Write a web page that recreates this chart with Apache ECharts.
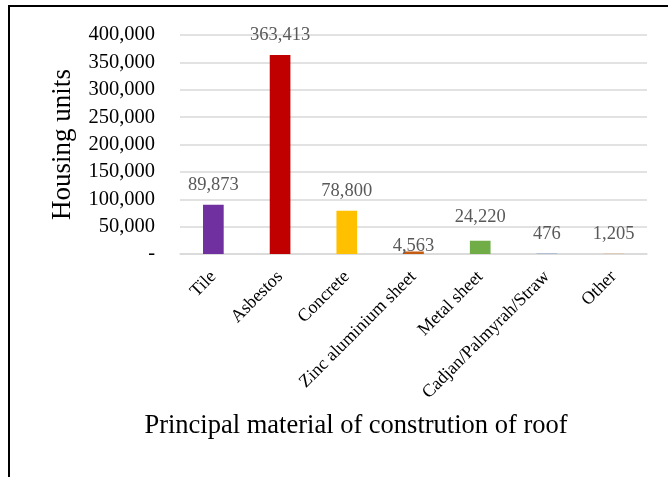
<!DOCTYPE html>
<html>
<head>
<meta charset="utf-8">
<script src="https://cdn.jsdelivr.net/npm/echarts@6/dist/echarts.min.js"></script>
<style>
  html, body { margin: 0; padding: 0; background: #fff; }
  #frame { position: absolute; left: 8px; top: 5px; width: 660px; height: 472px;
           border-left: 2px solid #000; border-top: 2px solid #000; }
  #chart { position: absolute; left: 0; top: 0; width: 668px; height: 477px; }
</style>
</head>
<body>
<div id="frame"></div>
<div id="chart"></div>
<script>
// Roof material categories and housing-unit counts
const categories = ['Tile', 'Asbestos', 'Concrete', 'Zinc aluminium sheet', 'Metal sheet', 'Cadjan/Palmyrah/Straw', 'Other'];
const housingUnits = [89873, 363413, 78800, 4563, 24220, 476, 1205];
const barColors = ['#7030A0', '#C00000', '#FFC000', '#C55A11', '#70AD47', '#4472C4', '#E2C4A8'];
// Extra lift (px) for individual value labels
const labelLift = [0, 0, 0, -14, 4, 0, 0];

const serif = '"Liberation Serif", "Times New Roman", serif';
const fmt = v => v.toLocaleString('en-US');

const chart = echarts.init(document.getElementById('chart'), null, { renderer: 'canvas' });
chart.setOption({
  animation: false,
  title: {
    text: 'Principal material of constrution of roof',
    left: 351, top: 408, textAlign: 'center',
    textStyle: { fontFamily: serif, fontSize: 26.5, fontWeight: 'normal', color: '#000' }
  },
  grid: { left: 180, right: 21, top: 35, bottom: 223, containLabel: false },
  xAxis: {
    type: 'category',
    data: categories,
    axisLine: { show: true, lineStyle: { color: '#D9D9D9', width: 1.5 } },
    axisTick: { show: false },
    axisLabel: { rotate: 45, interval: 0, margin: 20, fontFamily: serif, fontSize: 18, color: '#000' }
  },
  yAxis: {
    type: 'value',
    min: 0, max: 400000, interval: 50000,
    name: 'Housing units',
    nameLocation: 'middle',
    nameGap: 104,
    nameTextStyle: { fontFamily: serif, fontSize: 27, color: '#000' },
    axisLine: { show: false },
    axisTick: { show: false },
    splitLine: { lineStyle: { color: '#D9D9D9', width: 1.5 } },
    axisLabel: {
      margin: 25, fontFamily: serif, fontSize: 20.5, color: '#000',
      formatter: v => v === 0 ? '-' : fmt(v)
    }
  },
  series: [{
    type: 'bar',
    barWidth: '31%',
    data: housingUnits.map((v, i) => ({
      value: v,
      itemStyle: { color: barColors[i] },
      label: { distance: 10 + labelLift[i] }
    })),
    label: {
      show: true, position: 'top',
      fontFamily: serif, fontSize: 18.5, color: '#595959',
      formatter: p => fmt(p.value)
    }
  }]
});
</script>
</body>
</html>
